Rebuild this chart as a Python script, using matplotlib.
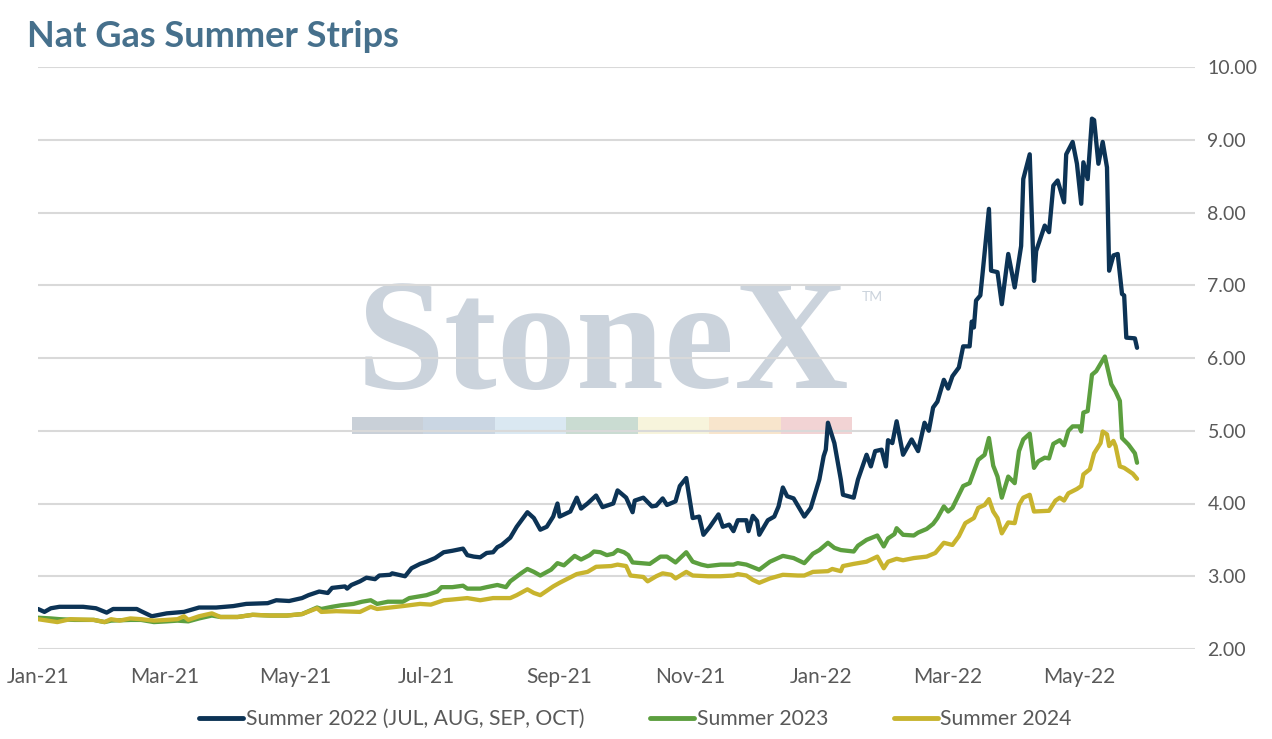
import matplotlib
matplotlib.use("Agg")
import matplotlib.pyplot as plt
import matplotlib.dates as mdates
from matplotlib.patches import Rectangle
import pandas as pd

# ---------------- data (days since START, price $/MMBtu) ----------------
START = "2021-01-01"

s22_days = [0, 3, 6, 10, 21, 27, 32, 35, 46, 48, 53, 60, 68, 75, 83, 91, 97, 107, 111, 117,
            123, 126, 131, 135, 137, 143, 144, 146, 150, 153, 157, 159, 164, 165, 171, 174, 178,
            181, 185, 189, 193, 198, 200, 203, 206, 209, 212, 214, 216, 220, 223, 228, 231, 234,
            237, 240, 242, 243, 248, 251, 253, 256, 260, 263, 268, 270, 274, 277, 278, 282, 286,
            288, 291, 293, 297, 299, 302, 305, 308, 310, 313, 317, 319, 322, 324, 326, 330, 331,
            333, 335, 336, 340, 343, 345, 347, 349, 352, 357, 360, 364, 366, 367, 368, 371, 374,
            375, 380, 382, 386, 388, 390, 393, 395, 396, 398, 400, 403, 407, 410, 413, 415, 417,
            419, 422, 424, 426, 429, 431, 434, 435, 436, 437, 439, 440, 443, 444, 447, 449, 452,
            455, 458, 459, 462, 464, 465, 469, 471, 473, 475, 478, 479, 482, 484, 486, 487, 489,
            491, 492, 494, 496, 498, 499, 501, 503, 505, 506, 507, 511, 512]
s22_vals = [2.55, 2.51, 2.56, 2.58, 2.58, 2.56, 2.50, 2.55, 2.55, 2.52, 2.45, 2.49, 2.51, 2.57,
            2.57, 2.59, 2.62, 2.63, 2.67, 2.66, 2.70, 2.74, 2.79, 2.77, 2.84, 2.86, 2.83, 2.88,
            2.93, 2.98, 2.96, 3.01, 3.02, 3.04, 3.00, 3.11, 3.17, 3.20, 3.25, 3.33, 3.35, 3.38,
            3.29, 3.27, 3.26, 3.32, 3.33, 3.40, 3.43, 3.53, 3.68, 3.88, 3.80, 3.64, 3.68, 3.82,
            4.00, 3.82, 3.89, 4.08, 3.93, 4.00, 4.11, 3.95, 4.00, 4.18, 4.08, 3.88, 4.04, 4.08,
            3.96, 3.97, 4.07, 3.98, 4.03, 4.24, 4.35, 3.80, 3.82, 3.57, 3.68, 3.85, 3.68, 3.71,
            3.62, 3.77, 3.77, 3.62, 3.83, 3.76, 3.57, 3.77, 3.82, 3.96, 4.22, 4.10, 4.07, 3.82,
            3.94, 4.33, 4.65, 4.74, 5.11, 4.83, 4.33, 4.12, 4.08, 4.33, 4.67, 4.51, 4.72, 4.74,
            4.51, 4.87, 4.83, 5.13, 4.67, 4.88, 4.72, 5.11, 5.00, 5.32, 5.40, 5.70, 5.58, 5.75,
            5.87, 6.16, 6.16, 6.50, 6.42, 6.79, 6.86, 7.15, 8.05, 7.20, 7.18, 6.74, 7.43, 6.97,
            7.54, 8.46, 8.80, 7.06, 7.47, 7.82, 7.73, 8.37, 8.44, 8.14, 8.80, 8.97, 8.67, 8.12,
            8.69, 8.46, 9.29, 9.27, 8.67, 8.97, 8.62, 7.20, 7.41, 7.43, 6.88, 6.86, 6.28, 6.27,
            6.14]

s23_days = [0, 6, 10, 17, 26, 31, 34, 43, 48, 54, 60, 65, 70, 75, 81, 85, 93, 100, 108, 116,
            123, 130, 132, 137, 141, 147, 151, 155, 158, 163, 170, 173, 181, 186, 188, 193, 198,
            200, 206, 209, 214, 218, 220, 225, 228, 231, 234, 239, 242, 245, 250, 253, 257, 259,
            262, 265, 268, 270, 273, 275, 277, 281, 285, 290, 293, 297, 302, 305, 309, 312, 318,
            324, 326, 330, 336, 341, 347, 352, 357, 361, 364, 368, 371, 374, 380, 382, 386, 391,
            394, 396, 399, 400, 403, 408, 410, 414, 417, 419, 422, 424, 426, 431, 434, 438, 441,
            443, 445, 447, 449, 452, 455, 457, 459, 462, 464, 466, 469, 471, 473, 476, 478, 480,
            482, 485, 486, 487, 489, 491, 493, 497, 500, 502, 504, 505, 508, 511, 512]
s23_vals = [2.43, 2.42, 2.41, 2.40, 2.40, 2.37, 2.39, 2.40, 2.40, 2.37, 2.38, 2.39, 2.38, 2.42,
            2.46, 2.44, 2.44, 2.47, 2.46, 2.46, 2.48, 2.57, 2.55, 2.58, 2.60, 2.62, 2.65, 2.67,
            2.62, 2.65, 2.65, 2.70, 2.74, 2.79, 2.85, 2.85, 2.87, 2.83, 2.83, 2.85, 2.88, 2.85,
            2.93, 3.04, 3.10, 3.06, 3.01, 3.09, 3.18, 3.15, 3.28, 3.23, 3.29, 3.34, 3.33, 3.29,
            3.31, 3.36, 3.33, 3.29, 3.19, 3.18, 3.17, 3.27, 3.27, 3.19, 3.33, 3.20, 3.16, 3.14,
            3.16, 3.16, 3.18, 3.16, 3.09, 3.20, 3.28, 3.25, 3.18, 3.31, 3.36, 3.46, 3.39, 3.36,
            3.34, 3.42, 3.50, 3.56, 3.41, 3.52, 3.58, 3.66, 3.57, 3.56, 3.60, 3.65, 3.72, 3.80,
            3.96, 3.89, 3.94, 4.24, 4.28, 4.60, 4.67, 4.90, 4.52, 4.37, 4.08, 4.37, 4.28, 4.72,
            4.88, 4.96, 4.49, 4.58, 4.63, 4.62, 4.82, 4.87, 4.80, 5.00, 5.06, 5.06, 4.99, 5.25,
            5.27, 5.77, 5.82, 6.02, 5.64, 5.54, 5.41, 4.90, 4.81, 4.69, 4.56]

s24_days = [0, 9, 15, 26, 31, 34, 38, 43, 48, 54, 60, 65, 68, 70, 75, 81, 85, 93, 100, 108,
            116, 123, 130, 132, 139, 150, 155, 158, 164, 170, 178, 183, 189, 193, 200, 206, 212,
            220, 223, 228, 231, 234, 240, 243, 247, 251, 256, 260, 267, 270, 274, 276, 279, 282,
            284, 288, 291, 295, 297, 302, 305, 312, 318, 324, 326, 330, 333, 336, 341, 347, 354,
            357, 361, 368, 370, 374, 375, 380, 386, 391, 394, 396, 400, 403, 408, 414, 418, 422,
            426, 429, 432, 436, 438, 441, 443, 445, 447, 449, 452, 455, 457, 459, 462, 464, 471,
            474, 476, 478, 480, 484, 486, 487, 490, 492, 495, 496, 498, 499, 501, 502, 504, 506,
            510, 512]
s24_vals = [2.41, 2.37, 2.41, 2.40, 2.37, 2.41, 2.39, 2.42, 2.41, 2.39, 2.40, 2.41, 2.45, 2.40,
            2.45, 2.49, 2.44, 2.44, 2.47, 2.46, 2.46, 2.48, 2.56, 2.51, 2.52, 2.51, 2.58, 2.55,
            2.57, 2.59, 2.62, 2.61, 2.67, 2.68, 2.70, 2.67, 2.70, 2.70, 2.74, 2.82, 2.77, 2.74,
            2.86, 2.91, 2.97, 3.03, 3.06, 3.13, 3.14, 3.16, 3.14, 3.01, 3.00, 2.99, 2.93, 3.00,
            3.04, 3.02, 2.97, 3.06, 3.01, 3.00, 3.00, 3.01, 3.03, 3.01, 2.95, 2.91, 2.97, 3.02,
            3.01, 3.01, 3.06, 3.07, 3.10, 3.07, 3.14, 3.17, 3.20, 3.27, 3.11, 3.20, 3.24, 3.22,
            3.25, 3.27, 3.32, 3.46, 3.43, 3.55, 3.73, 3.80, 3.94, 3.98, 4.06, 3.89, 3.80, 3.59,
            3.74, 3.73, 3.98, 4.08, 4.12, 3.89, 3.90, 4.04, 4.08, 4.04, 4.14, 4.20, 4.24, 4.40,
            4.47, 4.69, 4.83, 4.99, 4.95, 4.79, 4.86, 4.79, 4.51, 4.49, 4.41, 4.34]

series_labels = ["Summer 2022 (JUL, AUG, SEP, OCT)", "Summer 2023", "Summer 2024"]
y_ticks = [2, 3, 4, 5, 6, 7, 8, 9, 10]
title = "Nat Gas Summer Strips"

# ---------------- styling ----------------
FONT = "Lato"
TXT = "#595959"
colors = ["#0C3355", "#5C9F3F", "#C8B42E"]

W, H = 1272, 739
fig = plt.figure(figsize=(W / 100, H / 100), dpi=100)
L, R, B, T = 38, 1195, 649, 67
ax = fig.add_axes([L / W, (H - B) / H, (R - L) / W, (B - T) / H])

start = pd.Timestamp(START)
def to_dates(days):
    return start + pd.to_timedelta(days, unit="D")

# watermark (behind grid)
wm_col = "#CBD3DC"
ax.text(603 / W, (H - 388) / H, "StoneX", transform=fig.transFigure, ha="center",
        va="baseline", fontsize=114, fontweight="bold", family="Liberation Serif",
        color=wm_col, zorder=0.1)
ax.text(872 / W, (H - 297) / H, "TM", transform=fig.transFigure, ha="center", va="center",
        fontsize=10, family=FONT, color=wm_col, zorder=0.1)
bar_cols = ["#C9D0D8", "#CAD6E3", "#DAE8F2", "#CADCD2", "#F7F4DC", "#F8E5CC", "#F2D3D4"]
seg = 500 / 7
for i, c in enumerate(bar_cols):
    ax.add_patch(Rectangle(((352 + i * seg) / W, (H - 434) / H), seg / W, 17 / H,
                           transform=fig.transFigure, color=c, lw=0, zorder=0.1))

for d, v, c, lab in zip([s22_days, s23_days, s24_days], [s22_vals, s23_vals, s24_vals],
                        colors, series_labels):
    ax.plot(to_dates(d), v, color=c, lw=3.1, label=lab, zorder=3,
            solid_joinstyle="round", solid_capstyle="round")

ax.set_ylim(2, 10)
ax.set_yticks(y_ticks)
ax.yaxis.set_major_formatter(matplotlib.ticker.FormatStrFormatter("%.2f"))
ax.yaxis.tick_right()
ax.set_xlim(start, start + pd.Timedelta(days=539))
ax.xaxis.set_major_locator(mdates.MonthLocator(bymonth=[1, 3, 5, 7, 9, 11]))
ax.xaxis.set_major_formatter(mdates.DateFormatter("%b-%y"))
ax.grid(axis="y", color="#D9D9D9", lw=1.5, zorder=1)
ax.set_axisbelow(True)
for s in ax.spines.values():
    s.set_visible(False)
ax.tick_params(axis="both", length=0, labelcolor=TXT)
ax.tick_params(axis="y", pad=9, labelsize=14)
ax.tick_params(axis="x", pad=13, labelsize=15)
for lbl in ax.get_xticklabels() + ax.get_yticklabels():
    lbl.set_family(FONT)

fig.text(27 / W, (H - 47) / H, title, ha="left", va="baseline", fontsize=26,
         fontweight="bold", family=FONT, color="#46708C")

fig.legend(loc="center", bbox_to_anchor=(0.4996, (H - 719) / H), ncol=3, frameon=False,
           prop={"family": FONT, "size": 15.2}, labelcolor=TXT, handlelength=2.1,
           handletextpad=0.12, columnspacing=3.1)
for ln in fig.legends[0].get_lines():
    ln.set_linewidth(3.5)

fig.savefig("out.png", dpi=100)
